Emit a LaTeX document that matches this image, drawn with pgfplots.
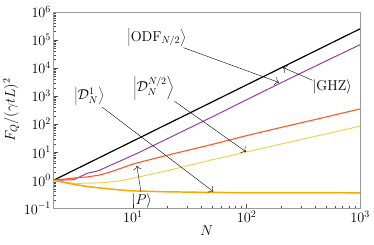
\documentclass[border=0pt]{standalone}
\usepackage{pgfplots}
\pgfplotsset{compat=1.18}
\usetikzlibrary{arrows.meta}
\definecolor{cpurple}{HTML}{9A3A9C}
\definecolor{cred}{HTML}{FF5526}
\definecolor{cyellow}{HTML}{E8D54C}
\definecolor{corange}{HTML}{FFA500}
\begin{document}
\begin{tikzpicture}[font=\fontsize{14}{16}\selectfont]
\begin{axis}[
  scale only axis, width=309pt, height=198pt,
  xmode=log, ymode=log,
  xmin=2, xmax=1000, ymin=0.1, ymax=1e6,
  tick pos=left,
  axis line style={gray!80, line width=0.8pt},
  tick style={black!70},
  tick label style={font=\fontsize{14}{16}\selectfont},
  label style={font=\fontsize{14}{16}\selectfont},
  xtick={10,100,1000},
  ytick={0.1,1,10,100,1000,10000,100000,1000000},
  xlabel={$N$}, ylabel={$F_Q/(\gamma t L)^2$},
  xlabel style={yshift=4pt},
  ylabel style={yshift=-2pt},
  xticklabel style={yshift=1pt},
  yticklabel style={xshift=1pt},
  clip=true,
]
\addplot[black, line width=1.2pt] coordinates {(2,1) (10,25) (100,2500) (1000,250000)};
\addplot[cpurple, line width=1.0pt] coordinates {(2,1) (3,1.05) (4,1.8) (5,2.2) (6,3.1) (8,5.2) (10,7.8) (12,11) (20,30) (50,183) (100,740) (200,2950) (500,17800) (1000,68000)};
\addplot[cred, line width=1.1pt] coordinates {(2,1) (3,1.2) (4,1.33) (5,1.52) (6,1.85) (8,2.75) (10,3.8) (12,4.6) (20,7.8) (50,19) (100,39) (200,76) (500,180) (1000,350)};
\addplot[cyellow, line width=1.0pt] coordinates {(2,1) (3,0.78) (4,0.79) (5,0.81) (6,0.86) (8,0.98) (10,1.2) (15,1.7) (20,2.2) (30,3.3) (50,5.4) (100,10.3) (200,19.5) (500,45) (1000,85)};
\addplot[corange, line width=1.5pt] coordinates {(2,1) (3,0.72) (4,0.6) (5,0.54) (6,0.5) (8,0.45) (10,0.42) (20,0.39) (50,0.37) (100,0.365) (1000,0.36)};

\begin{scope}[every node/.style={inner sep=0.5pt}]
\node at (axis description cs:0.337,0.869) {$\left|\mathrm{ODF}_{N/2}\right\rangle$};
\draw[-{To[length=4pt]}, thin] (axis description cs:0.424,0.818) -- (axis description cs:0.735,0.641);
\node at (axis description cs:0.909,0.616) {$|\mathrm{GHZ}\rangle$};
\draw[-{To[length=4pt]}, thin] (axis description cs:0.845,0.652) -- (axis description cs:0.748,0.717);
\node at (axis description cs:0.327,0.611) {$\left|\mathcal{D}_N^{N/2}\right\rangle$};
\draw[-{To[length=4pt]}, thin] (axis description cs:0.395,0.545) -- (axis description cs:0.628,0.288);
\node at (axis description cs:0.117,0.571) {$\left|\mathcal{D}_N^{1}\right\rangle$};
\draw[-{To[length=4pt]}, thin] (axis description cs:0.159,0.515) -- (axis description cs:0.521,0.086);
\node at (axis description cs:0.288,0.040) {$|P\rangle$};
\draw[-{To[length=4pt]}, thin] (axis description cs:0.285,0.086) -- (axis description cs:0.272,0.217);
\end{scope}
\end{axis}
\path (current axis.south west) ++(-51pt,-36pt) coordinate (bl);
\path (current axis.north east) ++(14pt,12pt) coordinate (tr);
\path (bl) rectangle (tr);
\end{tikzpicture}
\end{document}
